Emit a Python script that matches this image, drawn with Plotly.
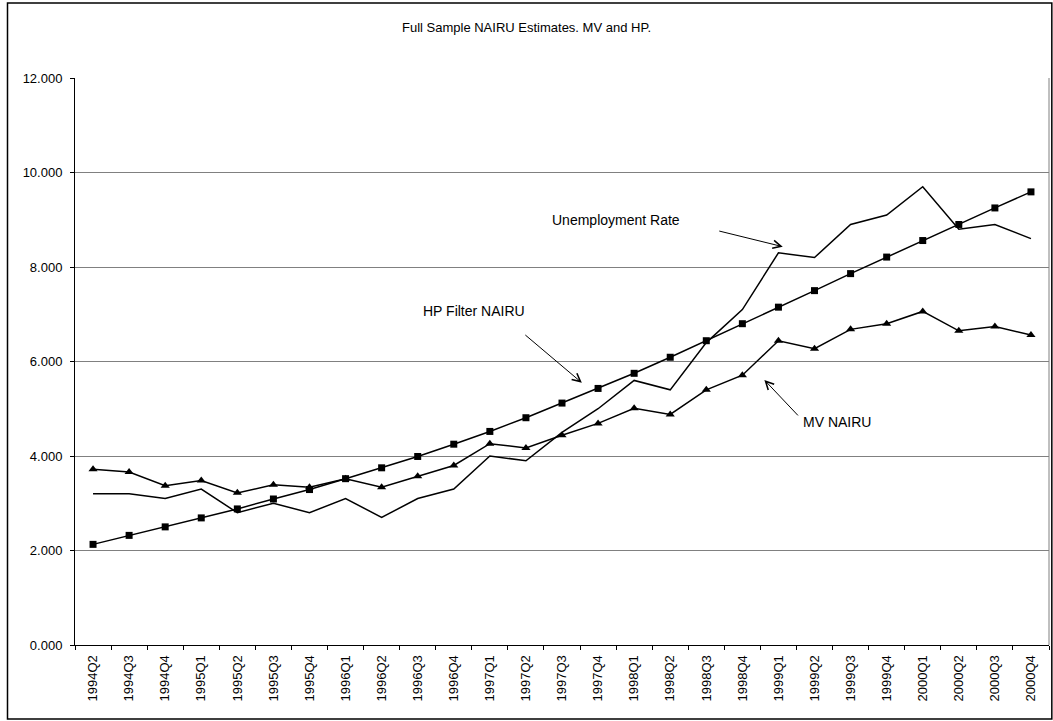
import plotly.graph_objects as go

# Quarterly labels, 1994Q2 - 2000Q4
quarters = [
    "1994Q2", "1994Q3", "1994Q4",
    "1995Q1", "1995Q2", "1995Q3", "1995Q4",
    "1996Q1", "1996Q2", "1996Q3", "1996Q4",
    "1997Q1", "1997Q2", "1997Q3", "1997Q4",
    "1998Q1", "1998Q2", "1998Q3", "1998Q4",
    "1999Q1", "1999Q2", "1999Q3", "1999Q4",
    "2000Q1", "2000Q2", "2000Q3", "2000Q4",
]

# Unemployment rate (%)
unemployment = [3.2, 3.2, 3.1, 3.3, 2.8, 3.0, 2.8, 3.1, 2.7, 3.1, 3.3,
                4.0, 3.9, 4.5, 5.0, 5.6, 5.4, 6.4, 7.1, 8.3, 8.2, 8.9,
                9.1, 9.7, 8.8, 8.9, 8.6]

# Hodrick-Prescott filter NAIRU
hp_nairu = [2.13, 2.32, 2.50, 2.69, 2.88, 3.09, 3.29, 3.52, 3.75, 3.99, 4.25,
            4.52, 4.81, 5.12, 5.43, 5.75, 6.09, 6.44, 6.80, 7.15, 7.50, 7.86,
            8.21, 8.56, 8.90, 9.25, 9.59]

# Multivariate filter NAIRU
mv_nairu = [3.72, 3.66, 3.37, 3.48, 3.22, 3.39, 3.34, 3.52, 3.34, 3.57, 3.80,
            4.26, 4.17, 4.44, 4.69, 5.01, 4.88, 5.40, 5.71, 6.44, 6.27, 6.68,
            6.80, 7.06, 6.65, 6.74, 6.56]

y_ticks = [0, 2, 4, 6, 8, 10, 12]

FONT = "Arial, 'Liberation Sans', sans-serif"

fig = go.Figure()

fig.add_trace(go.Scatter(
    x=quarters, y=unemployment, mode="lines", name="Unemployment Rate",
    line=dict(color="black", width=1.5),
))
fig.add_trace(go.Scatter(
    x=quarters, y=hp_nairu, mode="lines+markers", name="HP Filter NAIRU",
    line=dict(color="black", width=1.5),
    marker=dict(symbol="square", size=7, color="black"),
))
fig.add_trace(go.Scatter(
    x=quarters, y=mv_nairu, mode="lines+markers", name="MV NAIRU",
    line=dict(color="black", width=1.5),
    marker=dict(symbol="triangle-up", size=8, color="black"),
))

label_font = dict(family=FONT, size=14, color="black")
arrow_style = dict(showarrow=True, arrowhead=5, arrowsize=1.6, arrowwidth=1,
                   arrowcolor="black", axref="pixel", ayref="pixel")

annotations = [
    dict(x=14.5, y=8.99, xref="x", yref="y", text="Unemployment Rate",
         showarrow=False, font=label_font),
    dict(x=10.56, y=7.07, xref="x", yref="y", text="HP Filter NAIRU",
         showarrow=False, font=label_font),
    dict(x=20.62, y=4.73, xref="x", yref="y", text="MV NAIRU",
         showarrow=False, font=label_font),
    dict(x=19.12, y=8.43, xref="x", yref="y", text="", ax=-65, ay=-16, **arrow_style),
    dict(x=13.55, y=5.55, xref="x", yref="y", text="", ax=-58, ay=-49, **arrow_style),
    dict(x=18.61, y=5.61, xref="x", yref="y", text="", ax=35, ay=37, **arrow_style),
]

shapes = [
    # outer chart frame
    dict(type="rect", xref="paper", yref="paper",
         x0=-0.0693, x1=1.0029, y0=-0.1305, y1=1.1322,
         line=dict(color="black", width=1.5), fillcolor="rgba(0,0,0,0)", layer="below"),
    # right edge of plot area
    dict(type="line", xref="paper", yref="paper", x0=1, x1=1, y0=0, y1=1,
         line=dict(color="#808080", width=1)),
]

fig.update_layout(
    width=1053, height=721,
    margin=dict(l=75, r=4, t=78, b=76),
    paper_bgcolor="white", plot_bgcolor="white",
    showlegend=False,
    font=dict(family=FONT, size=13, color="black"),
    title=dict(text="Full Sample NAIRU Estimates. MV and HP.",
               x=0.5, xanchor="center", y=1 - 27 / 721, yanchor="middle",
               font=dict(family=FONT, size=13, color="black")),
    annotations=annotations,
    shapes=shapes,
)

fig.update_xaxes(
    type="category", categoryorder="array", categoryarray=quarters,
    range=[-0.5, len(quarters) - 0.5],
    tickangle=-90, tickson="boundaries", ticks="outside", ticklen=4,
    tickcolor="black", showline=True, linecolor="black", linewidth=1,
    showgrid=False, zeroline=False, ticklabelstandoff=4,
    tickfont=dict(family=FONT, size=13, color="black"),
)
fig.update_yaxes(
    range=[0, 12], tickvals=y_ticks, tickformat=".3f",
    ticks="outside", ticklen=4, tickcolor="black",
    showline=True, linecolor="black", linewidth=1,
    showgrid=True, gridcolor="#808080", gridwidth=1, zeroline=False,
    ticklabelstandoff=5,
    tickfont=dict(family=FONT, size=13, color="black"),
)

fig.write_html("out.html")
